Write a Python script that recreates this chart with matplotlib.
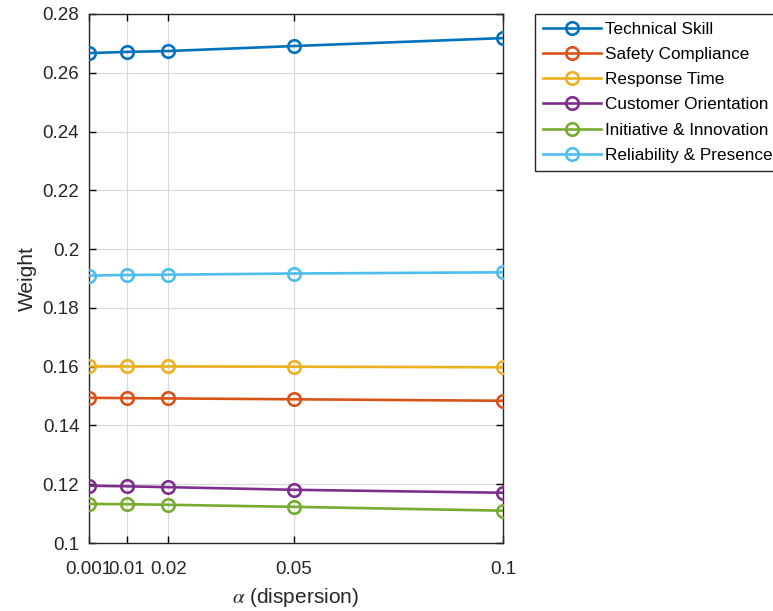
import matplotlib
matplotlib.use("Agg")
import matplotlib.pyplot as plt
from matplotlib.ticker import FixedLocator, FixedFormatter

plt.rcParams['font.family'] = ['Liberation Sans', 'DejaVu Sans']
plt.rcParams['mathtext.fontset'] = 'stix'

# dispersion levels
alpha_vals = [0.001, 0.01, 0.02, 0.05, 0.1]
alpha_labels = ["0.001", "0.01", "0.02", "0.05", "0.1"]

# criterion weights per dispersion level
technical_skill = [0.2667, 0.2671, 0.2674, 0.2691, 0.2718]
safety_compliance = [0.1494, 0.1493, 0.1492, 0.1489, 0.1484]
response_time = [0.1601, 0.1601, 0.1601, 0.1600, 0.1598]
customer_orientation = [0.1195, 0.1193, 0.1190, 0.1181, 0.1171]
initiative_innovation = [0.1133, 0.1132, 0.1130, 0.1123, 0.1110]
reliability_presence = [0.1910, 0.1912, 0.1913, 0.1917, 0.1921]

series_names = ["Technical Skill", "Safety Compliance", "Response Time",
                "Customer Orientation", "Initiative & Innovation",
                "Reliability & Presence"]
series_values = [technical_skill, safety_compliance, response_time,
                 customer_orientation, initiative_innovation, reliability_presence]

y_ticks = [0.10, 0.12, 0.14, 0.16, 0.18, 0.20, 0.22, 0.24, 0.26, 0.28]
y_tick_labels = ["0.1", "0.12", "0.14", "0.16", "0.18", "0.2", "0.22", "0.24", "0.26", "0.28"]

colors = [(0.0, 0.447, 0.741), (0.850, 0.325, 0.098), (0.929, 0.694, 0.125),
          (0.494, 0.184, 0.556), (0.466, 0.674, 0.188), (0.301, 0.745, 0.933)]

fig = plt.figure(figsize=(7.73, 6.11), dpi=100)
ax = fig.add_axes([89 / 773, 68 / 611, (503 - 89) / 773, (543 - 14) / 611])

for name, vals, col in zip(series_names, series_values, colors):
    ax.plot(alpha_vals, vals, '-o', color=col, lw=1.9, markersize=9,
            markerfacecolor='none', markeredgewidth=1.9, label=name, zorder=3)

ax.set_xlim(0.001, 0.1)
ax.set_ylim(0.10, 0.28)
ax.xaxis.set_major_locator(FixedLocator(alpha_vals))
ax.xaxis.set_major_formatter(FixedFormatter(alpha_labels))
ax.yaxis.set_major_locator(FixedLocator(y_ticks))
ax.yaxis.set_major_formatter(FixedFormatter(y_tick_labels))

ax.grid(True, color=(0.85, 0.85, 0.85), lw=0.8, zorder=0)
ax.tick_params(direction='in', length=5, width=1, top=True, right=True,
               labelsize=13.5, colors='black', labelcolor=(0.15, 0.15, 0.15))
ax.tick_params(axis='y', pad=7)
ax.tick_params(axis='x', pad=13)
for s in ax.spines.values():
    s.set_linewidth(1.0)
    s.set_color((0.15, 0.15, 0.15))

ax.set_ylabel("Weight", fontsize=15, color=(0.15, 0.15, 0.15), labelpad=4)
ax.set_xlabel(r"$\alpha$ (dispersion)", fontsize=15, color=(0.15, 0.15, 0.15), labelpad=6)

leg = ax.legend(loc='upper left', bbox_to_anchor=(535 / 773, 1 - 14 / 611),
                bbox_transform=fig.transFigure, borderaxespad=0, fontsize=12.3,
                handlelength=3.4, handletextpad=0.25, labelspacing=0.6,
                borderpad=0.45, fancybox=False, framealpha=1)
leg.get_frame().set_edgecolor((0.15, 0.15, 0.15))
leg.get_frame().set_linewidth(1.0)

fig.savefig("out.png", dpi=100)
